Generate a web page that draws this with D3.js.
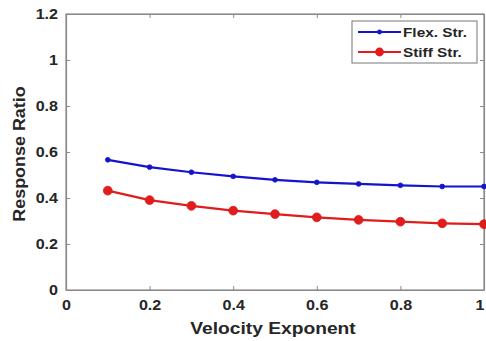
<!DOCTYPE html>
<html>
<head>
<meta charset="utf-8">
<script src="https://cdn.jsdelivr.net/npm/d3@7"></script>
<style>
  html, body { margin: 0; padding: 0; background: #fff; }
  svg { display: block; }
  text { font-family: Arial, "Liberation Sans", sans-serif; }
</style>
</head>
<body>
<div id="chart"></div>
<script>
// Velocity exponent sweep and response ratios for the two structures
const exponents = [0.1, 0.2, 0.3, 0.4, 0.5, 0.6, 0.7, 0.8, 0.9, 1.0];
const flexStr  = [0.566, 0.534, 0.512, 0.494, 0.479, 0.468, 0.461, 0.455, 0.450, 0.450];
const stiffStr = [0.432, 0.391, 0.366, 0.345, 0.330, 0.316, 0.305, 0.297, 0.290, 0.286];
const seriesNames = ["Flex. Str.", "Stiff Str."];
const xTicks = [0, 0.2, 0.4, 0.6, 0.8, 1];
const yTicks = [0, 0.2, 0.4, 0.6, 0.8, 1, 1.2];

const W = 486, H = 341;
const margin = { left: 66, top: 14, right: 2, bottom: 51 };
const iw = W - margin.left - margin.right;
const ih = H - margin.top - margin.bottom;

const svg = d3.select("#chart").append("svg").attr("width", W).attr("height", H);
const g = svg.append("g").attr("transform", `translate(${margin.left},${margin.top})`);

const x = d3.scaleLinear().domain([0, 1]).range([0, iw]);
const y = d3.scaleLinear().domain([0, 1.2]).range([ih, 0]);

const axisColor = "#8a8a8a";
const labelColor = "#262626";

// Widen bold glyphs a little (the lettering is set wide)
function widen(sel, k) {
  sel.each(function () {
    const w = this.getComputedTextLength();
    d3.select(this).attr("textLength", w * k).attr("lengthAdjust", "spacingAndGlyphs");
  });
}

// Frame
g.append("rect").attr("width", iw).attr("height", ih)
  .attr("fill", "none").attr("stroke", axisColor).attr("stroke-width", 1.2);

// Axes with inward ticks, labels bold
const fmt = d => d === 0 ? "0" : d === 1 ? "1" : d3.format(".1f")(d);
const xAxis = g.append("g").attr("transform", `translate(0,${ih})`)
  .call(d3.axisBottom(x).tickValues(xTicks).tickFormat(fmt).tickSizeInner(-4).tickSizeOuter(0).tickPadding(10));
const yAxis = g.append("g")
  .call(d3.axisLeft(y).tickValues(yTicks).tickFormat(fmt).tickSizeInner(-4).tickSizeOuter(0).tickPadding(8));
const xTop = g.append("g")
  .call(d3.axisTop(x).tickValues(xTicks).tickFormat("").tickSizeInner(-4).tickSizeOuter(0));
const yRight = g.append("g").attr("transform", `translate(${iw},0)`)
  .call(d3.axisRight(y).tickValues(yTicks).tickFormat("").tickSizeInner(-4).tickSizeOuter(0));

[xAxis, yAxis, xTop, yRight].forEach(a => {
  a.select(".domain").attr("stroke", axisColor).attr("stroke-width", 1.2);
  a.selectAll(".tick line").attr("stroke", axisColor);
  a.selectAll(".tick text").attr("fill", labelColor)
    .attr("font-size", 14).attr("font-weight", "bold")
    .style("font-family", "Arial, 'Liberation Sans', sans-serif")
    .call(widen, 1.15);
});
// keep the last x label inside the page
xAxis.selectAll(".tick text").filter(d => d === 1).attr("text-anchor", "end").attr("dx", "0");

// Axis titles
svg.append("text")
  .attr("x", margin.left + iw / 2 - 2).attr("y", 334)
  .attr("text-anchor", "middle").attr("fill", labelColor)
  .attr("font-size", 16).attr("font-weight", "bold")
  .text("Velocity Exponent").call(widen, 1.2);
svg.append("text")
  .attr("transform", `translate(25,${margin.top + ih / 2 + 2}) rotate(-90)`)
  .attr("text-anchor", "middle").attr("fill", labelColor)
  .attr("font-size", 16).attr("font-weight", "bold")
  .text("Response Ratio").call(widen, 1.12);

// Series
const series = [
  { name: seriesNames[0], values: flexStr, color: "#1414cc", r: 2.4 },
  { name: seriesNames[1], values: stiffStr, color: "#e01c1c", r: 4.4 }
];
const line = d3.line().x(d => x(d[0])).y(d => y(d[1]));

series.forEach(s => {
  const pts = exponents.map((e, i) => [e, s.values[i]]);
  g.append("path").datum(pts)
    .attr("fill", "none").attr("stroke", s.color).attr("stroke-width", 2.2)
    .attr("d", line);
  g.selectAll(null).data(pts).enter().append("circle")
    .attr("cx", d => x(d[0])).attr("cy", d => y(d[1])).attr("r", s.r)
    .attr("fill", s.color).attr("stroke", s.color).attr("stroke-width", 0.8);
});

// Legend
const lg = svg.append("g").attr("transform", "translate(352,21)");
lg.append("rect").attr("width", 125).attr("height", 42)
  .attr("fill", "#fff").attr("stroke", "#777").attr("stroke-width", 1);
series.forEach((s, i) => {
  const yy = 11 + i * 20;
  lg.append("line").attr("x1", 6).attr("x2", 49).attr("y1", yy).attr("y2", yy)
    .attr("stroke", s.color).attr("stroke-width", 2.2);
  lg.append("circle").attr("cx", 27.5).attr("cy", yy).attr("r", s.r)
    .attr("fill", s.color);
  lg.append("text").attr("x", 51).attr("y", yy).attr("dy", "0.35em")
    .attr("fill", labelColor).attr("font-size", 13).attr("font-weight", "bold")
    .text(s.name).call(widen, 1.18);
});
</script>
</body>
</html>
